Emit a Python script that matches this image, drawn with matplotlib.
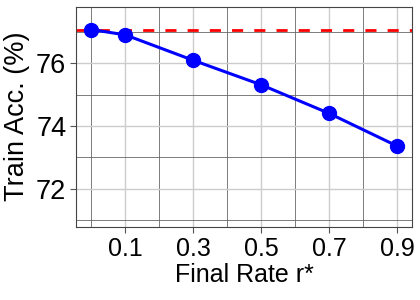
import matplotlib
matplotlib.use("Agg")
import matplotlib.pyplot as plt
from matplotlib.ticker import FixedLocator

plt.rcParams['font.family'] = ['Liberation Sans', 'DejaVu Sans']

# final rate r* vs train accuracy
rates = [0.0, 0.1, 0.3, 0.5, 0.7, 0.9]
train_acc = [77.07, 76.90, 76.09, 75.31, 74.40, 73.36]
baseline = 77.06
xticks = [0.1, 0.3, 0.5, 0.7, 0.9]
yticks = [72, 74, 76]

fig, ax = plt.subplots(figsize=(4.2, 3.0), dpi=100)
fig.subplots_adjust(left=0.181, right=0.982, top=0.978, bottom=0.244)

ax.plot(rates, train_acc, color='blue', lw=2.2, marker='o', ms=10, zorder=3)
ax.axhline(baseline, color='red', ls=(0, (4, 4)), lw=2.0, zorder=2.5)

ax.set_xticks(xticks)
ax.set_xticklabels([str(t) for t in xticks], fontsize=18)
ax.set_yticks(yticks)
ax.set_yticklabels([str(t) for t in yticks], fontsize=19.5)
# minor grid lines sit between the majors
ax.xaxis.set_minor_locator(FixedLocator([0.0, 0.2, 0.4, 0.6, 0.8]))
ax.yaxis.set_minor_locator(FixedLocator([71, 73, 75, 77]))
ax.tick_params(which='minor', length=0)
ax.tick_params(which='major', length=4, color='#555555', pad=3)
ax.grid(which='major', color='#cccccc', lw=1.0)
ax.grid(which='minor', color='#666666', lw=0.6)
ax.set_axisbelow(True)

ax.set_xlim(-0.045, 0.945)
ax.set_ylim(70.79, 77.8)
for s in ax.spines.values():
    s.set_color('#444444')

ax.set_xlabel('Final Rate r*', fontsize=18, labelpad=2)
ax.set_ylabel('Train Acc. (%)', fontsize=19.5, labelpad=4)

fig.savefig('out.png', dpi=100)
